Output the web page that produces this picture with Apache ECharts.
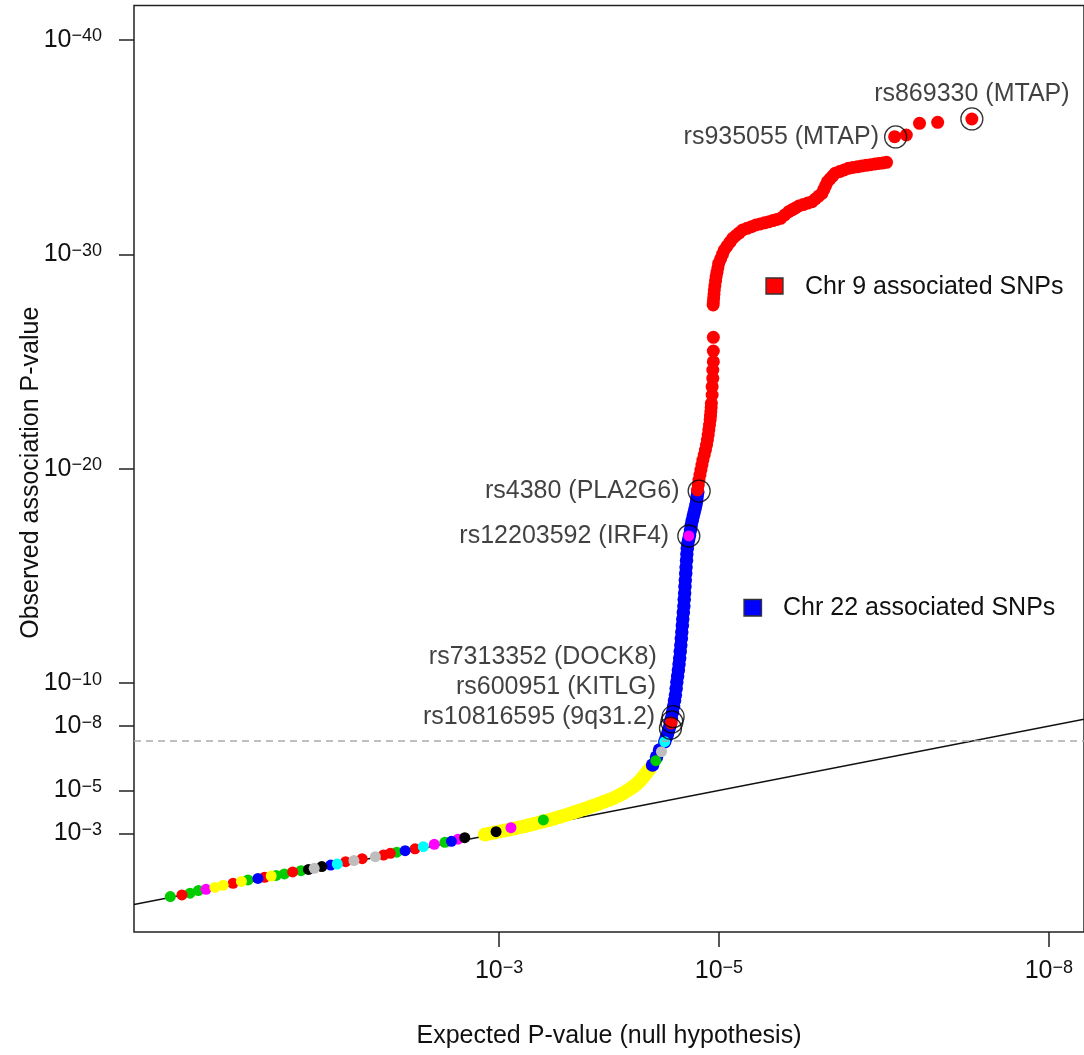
<!DOCTYPE html>
<html>
<head>
<meta charset="utf-8">
<script src="https://cdn.jsdelivr.net/npm/echarts@6/dist/echarts.min.js"></script>
<style>html,body{margin:0;padding:0;background:#fff}#c{width:1084px;height:1055px}</style>
</head>
<body>
<div id="c"></div>
<script>
// -log10 tick positions
const xTicks = [3, 5, 8];
const yTicks = [3, 5, 8, 10, 20, 30, 40];
const genomeWideLine = 7.3;
const refLine = [[-0.32, -0.32], [8.32, 8.32]];

// yellow band (expected, observed) in -log10 units
const yellowBand = [[2.871,2.947],[2.916,2.993],[2.961,3.040],[3.006,3.087],[3.051,3.133],[3.096,3.180],[3.142,3.227],[3.187,3.283],[3.232,3.334],[3.277,3.390],[3.322,3.446],[3.367,3.506],[3.412,3.567],[3.457,3.623],[3.503,3.693],[3.548,3.763],[3.593,3.833],[3.638,3.903],[3.683,3.982],[3.728,4.056],[3.773,4.136],[3.818,4.215],[3.863,4.299],[3.908,4.383],[3.954,4.471],[3.999,4.555],[4.044,4.648],[4.089,4.765],[4.125,4.858],[4.161,4.975],[4.197,5.092],[4.224,5.194],[4.251,5.302],[4.278,5.428],[4.296,5.535],[4.315,5.651],[4.333,5.768],[4.351,5.884],[4.369,6.001]];

// Chr 22 associated SNPs (blue)
const chr22SNPs = [[4.396,6.187],[4.432,6.560],[4.459,6.887],[4.507,7.274],[4.520,7.456],[4.532,7.633],[4.542,7.805],[4.552,7.973],[4.560,8.178],[4.568,8.379],[4.578,8.659],[4.588,8.938],[4.596,9.195],[4.604,9.451],[4.611,9.754],[4.617,10.057],[4.624,10.337],[4.631,10.617],[4.637,10.897],[4.643,11.177],[4.648,11.480],[4.653,11.783],[4.658,12.086],[4.662,12.389],[4.667,12.692],[4.671,12.995],[4.676,13.298],[4.681,13.601],[4.684,13.904],[4.688,14.207],[4.691,14.510],[4.694,14.813],[4.698,15.116],[4.701,15.419],[4.705,15.722],[4.708,16.026],[4.712,16.282],[4.717,16.539],[4.725,16.725],[4.733,16.912],[4.741,17.145],[4.748,17.378],[4.757,17.588],[4.766,17.797],[4.775,17.984],[4.784,18.170],[4.792,18.357],[4.798,18.543],[4.802,18.730],[4.808,18.917]];

// Chr 9 associated SNPs (red)
const chr9SNPs = [[4.565,8.15],[4.805,19.010],[4.812,19.243],[4.818,19.476],[4.827,19.709],[4.836,19.942],[4.845,20.175],[4.854,20.408],[4.866,20.642],[4.877,20.875],[4.887,21.108],[4.895,21.341],[4.902,21.574],[4.908,21.807],[4.914,22.040],[4.920,22.273],[4.923,22.460],[4.926,22.661],[4.929,22.857],[4.931,23.052],[4.938,23.439],[4.938,23.826],[4.944,24.218],[4.944,24.605],[4.949,24.992],[4.949,25.491],[4.949,26.130],[4.947,27.636],[4.949,27.790],[4.952,27.97],[4.955,28.15],[4.958,28.336],[4.963,28.54],[4.969,28.75],[4.974,28.955],[4.982,29.16],[4.990,29.37],[4.998,29.580],[5.015,29.785],[5.032,29.995],[5.049,30.200],[5.074,30.382],[5.100,30.564],[5.125,30.746],[5.155,30.876],[5.185,31.002],[5.215,31.133],[5.255,31.212],[5.295,31.287],[5.335,31.366],[5.375,31.417],[5.415,31.468],[5.455,31.520],[5.490,31.571],[5.526,31.627],[5.561,31.678],[5.598,31.832],[5.635,31.986],[5.665,32.075],[5.696,32.163],[5.726,32.252],[5.766,32.317],[5.807,32.387],[5.847,32.452],[5.877,32.583],[5.907,32.713],[5.937,32.844],[5.954,33.026],[5.970,33.203],[5.987,33.385],[6.010,33.515],[6.034,33.646],[6.057,33.777],[6.097,33.856],[6.137,33.930],[6.177,34.010],[6.217,34.047],[6.258,34.079],[6.298,34.117],[6.338,34.149],[6.378,34.177],[6.418,34.210],[6.453,34.238],[6.489,34.261],[6.524,34.289],[6.598,35.483],[6.704,35.562],[6.824,36.107],[6.989,36.154],[7.300,36.308]];

// other SNPs, by colour group
const greenSNPs = [[0.010,0.05],[0.190,0.21],[0.265,0.33],[0.717,0.83],[0.973,1.04],[1.048,1.11],[1.199,1.26],[2.070,2.12],[2.507,2.58],[3.403,3.623],[4.426,6.388]];
const redSNPs = [[0.116,0.13],[0.581,0.67],[0.867,0.95],[1.123,1.20],[1.605,1.68],[1.755,1.82],[1.950,1.99],[2.011,2.07],[2.236,2.28]];
const magentaSNPs = [[0.335,0.39],[2.411,2.49],[2.627,2.73],[3.108,3.264],[4.726,16.865]];
const yellowSNPs = [[0.416,0.48],[0.491,0.58],[0.657,0.76],[0.928,1.01]];
const blueSNPs = [[0.807,0.90],[1.469,1.52],[2.146,2.19],[2.567,2.63]];
const blackSNPs = [[1.267,1.32],[1.388,1.45],[2.688,2.80],[2.973,3.077]];
const graySNPs = [[1.319,1.37],[1.680,1.73],[1.875,1.91],[4.477,6.807]];
const cyanSNPs = [[1.529,1.57],[2.311,2.38],[4.507,7.274]];

// highlighted SNPs
const highlightNames = ['rs869330 (MTAP)','rs935055 (MTAP)','rs4380 (PLA2G6)','rs12203592 (IRF4)','rs7313352 (DOCK8)','rs600951 (KITLG)','rs10816595 (9q31.2)'];
const highlightPoints = [[7.300,36.31],[6.607,35.47],[4.820,18.96],[4.726,16.865],[4.583,8.440],[4.572,8.192],[4.559,7.899]];

const FONT = "'Liberation Sans', Arial, Helvetica, sans-serif";
const TXT = '#111';
const labelLayouts = [
  {position:'top', distance:1},
  {position:'left', distance:5},
  {position:'left', distance:8},
  {position:'left', distance:8},
  {position:'left', distance:6, offset:[1.3,-60]},
  {position:'left', distance:6, offset:[1.8,-35.3]},
  {position:'left', distance:6, offset:[2.3,-11.6]}
];

const rich = {
  b: {fontSize:25, lineHeight:25, verticalAlign:'bottom', color:TXT, fontFamily:FONT},
  s: {fontSize:18, lineHeight:18, verticalAlign:'top', padding:[0,0,13,0], color:TXT, fontFamily:FONT}
};
const powFmt = v => '{b|10}{s|\u2212' + v + '}';

function pts(name, data, color, size) {
  return {name, type:'scatter', data, symbolSize:size, itemStyle:{color, opacity:1}, silent:true, emphasis:{disabled:true}};
}

const chart = echarts.init(document.getElementById('c'), null, {renderer:'canvas'});
chart.setOption({
  animation:false,
  backgroundColor:'#fff',
  textStyle:{fontFamily:FONT, color:TXT},
  grid:{left:134, top:5.5, width:957.3, height:926.5, show:true, borderColor:'#222', borderWidth:1.5, backgroundColor:'transparent', containLabel:false},
  xAxis:{type:'value', min:-0.32, max:8.32,
    axisLine:{show:false, onZero:false}, splitLine:{show:false},
    axisTick:{show:true, length:15, customValues:xTicks, lineStyle:{color:'#222', width:1.5}},
    axisLabel:{customValues:xTicks, margin:27, formatter:powFmt, rich},
    name:'Expected P-value (null hypothesis)', nameLocation:'middle', nameGap:92, nameMoveOverlap:false,
    nameTextStyle:{fontSize:25, color:TXT, fontFamily:FONT}},
  yAxis:{type:'value', min:-1.6, max:41.6,
    axisLine:{show:false, onZero:false}, splitLine:{show:false},
    axisTick:{show:true, length:15, customValues:yTicks, lineStyle:{color:'#222', width:1.5}},
    axisLabel:{customValues:yTicks, margin:32, formatter:powFmt, rich},
    name:'Observed association P-value', nameLocation:'middle', nameGap:90, nameMoveOverlap:false,
    nameTextStyle:{fontSize:25, color:TXT, fontFamily:FONT, padding:[0,8,0,0]}},
  graphic:[
    {type:'rect', shape:{x:766, y:278, width:17, height:16}, style:{fill:'#ff0000', stroke:'#333', lineWidth:1.3}},
    {type:'text', x:805, y:287, style:{text:'Chr 9 associated SNPs', fontSize:25, fontFamily:FONT, fill:TXT, verticalAlign:'middle'}},
    {type:'rect', shape:{x:744, y:599.5, width:17.5, height:16.5}, style:{fill:'#0000ff', stroke:'#333', lineWidth:1.3}},
    {type:'text', x:783, y:608, style:{text:'Chr 22 associated SNPs', fontSize:25, fontFamily:FONT, fill:TXT, verticalAlign:'middle'}}
  ],
  series:[
    {name:'null', type:'line', data:refLine, showSymbol:false, silent:true, lineStyle:{color:'#111', width:1.5}, z:1,
      markLine:{silent:true, symbol:['none','none'], label:{show:false}, lineStyle:{type:[7,5], color:'#aaaaaa', width:1.5}, data:[{yAxis:genomeWideLine}]}},
    pts('yellow band', yellowBand, '#ffff00', 14),
    pts('Chr 22 associated SNPs', chr22SNPs, '#0000ff', 13.5),
    pts('Chr 9 associated SNPs', chr9SNPs, '#ff0000', 13),
    pts('green', greenSNPs, '#00cd00', 11),
    pts('red', redSNPs, '#ff0000', 11),
    pts('magenta', magentaSNPs, '#ff00ff', 11),
    pts('yellow', yellowSNPs, '#ffff00', 11),
    pts('blue', blueSNPs, '#0000ff', 11),
    pts('black', blackSNPs, '#000000', 11),
    pts('gray', graySNPs, '#bebebe', 11),
    pts('cyan', cyanSNPs, '#00ffff', 11),
    {name:'highlighted', type:'scatter', symbol:'circle', symbolSize:22, silent:true, emphasis:{disabled:true},
      itemStyle:{color:'rgba(0,0,0,0)', borderColor:'#000', borderWidth:1.3},
      label:{show:true, formatter:'{b}', fontSize:25, color:TXT, fontFamily:FONT},
      data:highlightPoints.map((p,i)=>({value:p, name:highlightNames[i], label:Object.assign({color:TXT}, labelLayouts[i])}))}
  ]
});
</script>
</body>
</html>
